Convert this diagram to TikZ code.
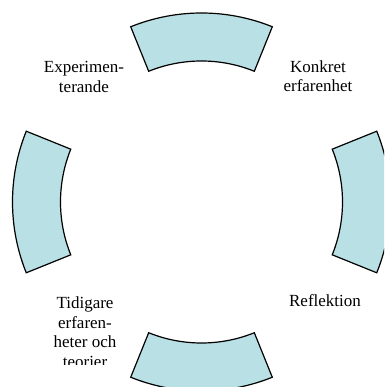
\documentclass[tikz,border=0pt]{standalone}
\usepackage{fontspec}
\setmainfont{Liberation Serif}
\definecolor{segfill}{RGB}{185,224,228}
\begin{document}
\begin{tikzpicture}[x=1pt,y=1pt,
  seg/.style={fill=segfill, draw=black, line width=1.2pt, line join=miter},
  lbl/.style={align=center, inner sep=0pt, font=\fontsize{17}{19.5}\selectfont}]
  % ram och klipp
  \useasboundingbox (-201.5,-185) rectangle (182.5,202);
  \clip (-201.5,-185) rectangle (182.5,202);
  % övre segment
  \draw[seg] (68:189) arc[start angle=68, end angle=112, radius=189]
    -- (112:141) arc[start angle=112, end angle=68, radius=141] -- cycle;
  % högra segment
  \draw[seg] (-22:189) arc[start angle=-22, end angle=22, radius=189]
    -- (22:141) arc[start angle=22, end angle=-22, radius=141] -- cycle;
  % nedre segment
  \draw[seg] (248:189) arc[start angle=248, end angle=292, radius=189]
    -- (292:141) arc[start angle=292, end angle=248, radius=141] -- cycle;
  % vänstra segment
  \draw[seg] (158:189) arc[start angle=158, end angle=202, radius=189]
    -- (202:141) arc[start angle=202, end angle=158, radius=141] -- cycle;
  % texter
  \node[lbl] (konkret) at (116.5,126) {Konkret\\erfarenhet};
  \node[lbl] (reflektion) at (123.5,-99) {Reflektion};
  \node[lbl] (experiment) at (-117.5,125) {Experimen-\\terande};
  \begin{scope}
    \clip (-201.5,-162) rectangle (0,0);
    \node[lbl] (tidigare) at (-116.5,-130) {Tidigare\\erfaren-\\heter och\\teorier};
  \end{scope}
\end{tikzpicture}
\end{document}
